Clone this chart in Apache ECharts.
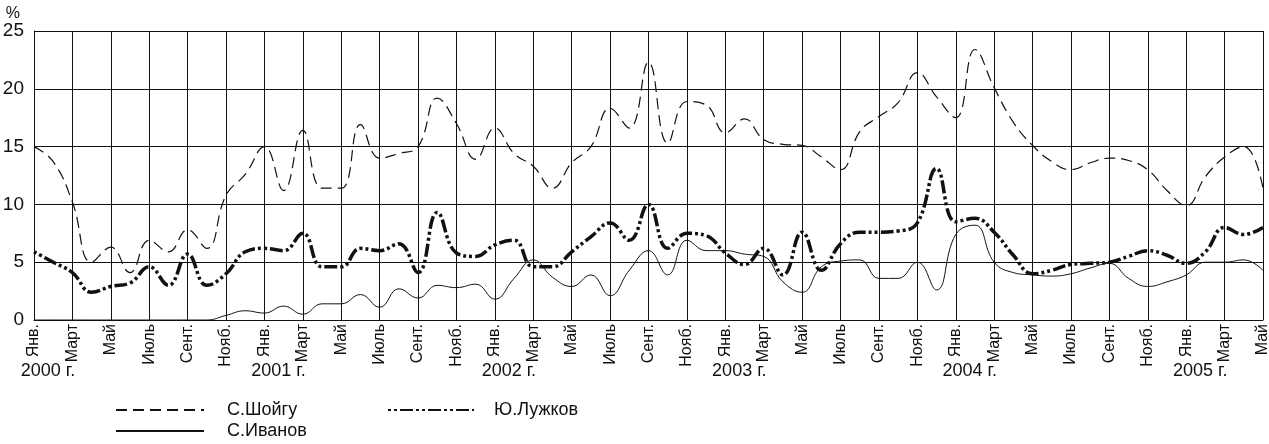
<!DOCTYPE html>
<html>
<head>
<meta charset="utf-8">
<script src="https://cdn.jsdelivr.net/npm/echarts@6/dist/echarts.min.js"></script>
<style>
html,body{margin:0;padding:0;background:#fff;}
#chart{width:1269px;height:444px;}
</style>
</head>
<body>
<div id="chart"></div>
<script>
const monthNames = ['Янв.','Февр.','Март','Апр.','Май','Июнь','Июль','Авг.','Сент.','Окт.','Нояб.','Дек.'];
const yearLabels = ['2000 г.','2001 г.','2002 г.','2003 г.','2004 г.','2005 г.'];
const months = [];
for (let i = 0; i < 65; i++) months.push(monthNames[i % 12]);

const shoigu = [
  15.0, 13.7, 10.2, 5.0, 6.3, 4.1, 6.9, 5.9, 7.8, 6.2, 10.8, 12.6,
  15.0, 11.2, 16.4, 11.4, 11.4, 16.9, 14.0, 14.4, 15.0, 19.2, 17.0, 13.9,
  16.6, 14.4, 13.3, 11.4, 13.6, 15.0, 18.3, 16.6, 22.3, 15.3, 18.9, 18.6,
  16.2, 17.4, 15.6, 15.2, 15.1, 14.1, 13.0, 16.3, 17.6, 18.8, 21.4, 19.3,
  17.5, 23.4, 20.1, 17.1, 15.1, 13.7, 13.0, 13.6, 14.0, 13.8, 13.0, 11.2,
  9.9, 12.4, 14.1, 15.0, 11.4
];
const ivanov = [
  0, 0, 0, 0, 0, 0, 0, 0, 0, 0, 0.4, 0.8,
  0.6, 1.2, 0.5, 1.4, 1.4, 2.2, 1.1, 2.7, 1.9, 3.0, 2.8, 3.1,
  1.8, 3.6, 5.2, 3.7, 2.9, 3.9, 2.1, 4.3, 6.0, 3.9, 6.9, 6.0,
  6.0, 5.7, 5.5, 3.3, 2.4, 4.6, 5.1, 5.2, 3.6, 3.6, 5.0, 2.6,
  7.4, 8.2, 5.0, 4.1, 3.9, 3.8, 4.0, 4.5, 4.9, 3.6, 2.9, 3.3,
  3.9, 5.0, 5.0, 5.2, 4.3
];
const luzhkov = [
  5.9, 5.0, 4.1, 2.4, 2.9, 3.2, 4.6, 3.0, 5.7, 3.0, 4.0, 5.9,
  6.2, 6.0, 7.5, 4.6, 4.6, 6.2, 6.0, 6.6, 4.1, 9.3, 5.8, 5.5,
  6.5, 6.9, 4.6, 4.6, 5.9, 7.2, 8.4, 6.9, 10.0, 6.2, 7.5, 7.3,
  5.8, 4.8, 6.2, 3.9, 7.6, 4.3, 6.6, 7.6, 7.6, 7.7, 8.4, 13.1,
  8.5, 8.8, 7.6, 5.6, 4.0, 4.3, 4.8, 4.9, 5.0, 5.5, 6.0, 5.6,
  4.9, 5.9, 8.0, 7.4, 8.0
];
const yTicks = [0, 5, 10, 15, 20, 25];

const FONT = "'Liberation Sans Narrow', 'Arial Narrow', 'Liberation Sans', sans-serif";
const INK = '#111';

function legendBlock(name, left, top, width, textPad) {
  return {
    data: [name], orient: 'horizontal', left: left, top: top, padding: 0,
    itemWidth: width, itemHeight: 14,
    itemStyle: {opacity: 0},
    textStyle: {fontFamily: FONT, fontSize: 18, color: INK, padding: [0, 0, 0, textPad]},
    selectedMode: false
  };
}

const chart = echarts.init(document.getElementById('chart'), null, {renderer: 'canvas'});
chart.setOption({
  animation: false,
  backgroundColor: '#fff',
  textStyle: {fontFamily: FONT, color: INK},
  grid: {left: 34, right: 6, top: 31, bottom: 124, containLabel: false, outerBoundsMode: 'none'},
  legend: [
    legendBlock('С.Шойгу', 115, 401, 88, 18),
    legendBlock('С.Иванов', 115, 422, 88, 18),
    legendBlock('Ю.Лужков', 387, 401, 86, 15)
  ],
  xAxis: [
    {
      type: 'category', data: months, boundaryGap: false, gridIndex: 0,
      axisLine: {show: true, lineStyle: {color: INK, width: 1}},
      axisTick: {show: false},
      axisLabel: {interval: 1, rotate: 90, margin: 4, fontFamily: FONT, fontSize: 16, color: INK},
      splitLine: {show: true, interval: 1, lineStyle: {color: INK, width: 1}}
    },
    {
      type: 'category', data: months, boundaryGap: false, gridIndex: 0, position: 'bottom',
      axisLine: {show: false}, axisTick: {show: false}, splitLine: {show: false},
      axisLabel: {
        interval: 11, margin: 42, fontFamily: FONT, fontSize: 18, color: INK,
        align: 'center', padding: [0, 0, 0, 28],
        formatter: function (v, idx) { return idx % 12 === 0 ? yearLabels[idx / 12] : ''; }
      }
    }
  ],
  yAxis: {
    type: 'value', min: yTicks[0], max: yTicks[yTicks.length - 1], interval: 5,
    name: '%', nameLocation: 'end', nameGap: 8,
    nameTextStyle: {fontFamily: FONT, fontSize: 16, color: INK, align: 'right', padding: [0, 14, 0, 0]},
    axisLine: {show: true, lineStyle: {color: INK, width: 1}},
    axisTick: {show: false},
    axisLabel: {margin: 10, fontFamily: FONT, fontSize: 19, color: INK},
    splitLine: {show: true, lineStyle: {color: INK, width: 1}}
  },
  series: [
    {
      name: 'С.Шойгу', type: 'line', data: shoigu, xAxisIndex: 0,
      smooth: 0.45, symbol: 'none', showSymbol: false,
      lineStyle: {color: INK, width: 1.2, type: [11, 6]},
      itemStyle: {color: INK}
    },
    {
      name: 'С.Иванов', type: 'line', data: ivanov, xAxisIndex: 0,
      smooth: 0.45, symbol: 'none', showSymbol: false,
      lineStyle: {color: INK, width: 1},
      itemStyle: {color: INK}
    },
    {
      name: 'Ю.Лужков', type: 'line', data: luzhkov, xAxisIndex: 0,
      smooth: 0.45, symbol: 'none', showSymbol: false,
      lineStyle: {color: INK, width: 3.5, type: [3, 3, 3, 3, 13, 3]},
      itemStyle: {color: INK}
    }
  ]
});
</script>
</body>
</html>
